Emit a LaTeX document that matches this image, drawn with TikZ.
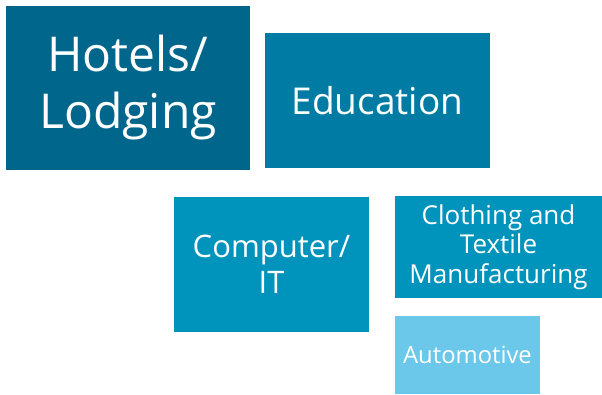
\documentclass[tikz,border=0pt]{standalone}
\usepackage{fontspec}
\setmainfont{Open Sans}
\usepackage{xcolor}
\usetikzlibrary{positioning}
\definecolor{darkblue}{HTML}{00668C}
\definecolor{midblue}{HTML}{007BA3}
\definecolor{brightblue}{HTML}{0094BD}
\definecolor{lightblue}{HTML}{6CC8EA}
\tikzset{
  tile/.style={rectangle, inner sep=0pt, align=center, text=white},
  big/.style={font=\fontsize{48}{57}\selectfont},
  medium/.style={font=\fontsize{37}{44}\selectfont},
  normal/.style={font=\fontsize{31}{36}\selectfont},
  small/.style={font=\fontsize{26}{29.5}\selectfont},
  tiny/.style={font=\fontsize{23.8}{28}\selectfont},
}

\begin{document}
\begin{tikzpicture}[x=1pt, y=-1pt]
\useasboundingbox (0,0) rectangle (602,394);
\node[tile, big, fill=darkblue, minimum width=244pt, minimum height=164pt] (hotels) at (128,88) {Hotels/\\Lodging};
\node[tile, medium, fill=midblue, minimum width=225pt, minimum height=135pt] (edu) at (377.5,100.3) {Education};
\node[tile, normal, fill=brightblue, minimum width=195pt, minimum height=135pt] (comp) at (271.5,264.3) {Computer/\\IT};
\node[tile, small, fill=brightblue, minimum width=207pt, minimum height=102pt] (cloth) at (498.5,247) {Clothing and\\Textile\\Manufacturing};
\node[tile, tiny, fill=lightblue, minimum width=145pt, minimum height=78pt] (auto) at (467.5,355) {Automotive};
\end{tikzpicture}
\end{document}
